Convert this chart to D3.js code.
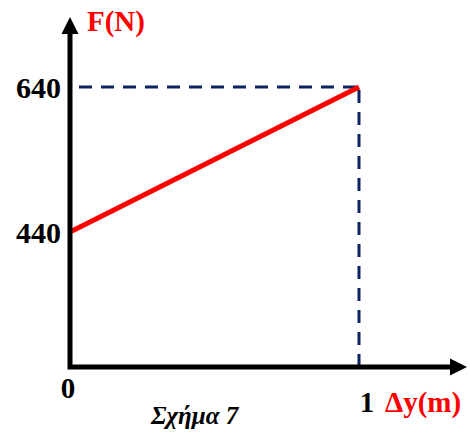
<!DOCTYPE html>
<html>
<head>
<meta charset="utf-8">
<script src="https://cdn.jsdelivr.net/npm/d3@7"></script>
<style>
  html, body { margin: 0; padding: 0; background: #fff; }
  svg { display: block; }
  text { font-family: "Liberation Serif", "Times New Roman", serif; font-weight: bold; }
</style>
</head>
<body>
<svg id="chart" width="470" height="435"></svg>
<script>
// Force F (N) against displacement Δy (m)
const displacement = [0, 1];
const force = [440, 640];
const forceTicks = [440, 640];
const dispTicks = [0, 1];

const svg = d3.select("#chart");

// Origin of the axes and their arrow tips
const originX = 70, originY = 367;
const xAxisEnd = 467, yAxisEnd = 17;

const x = d3.scaleLinear().domain([0, 1]).range([originX, 359]);
const y = d3.scaleLinear().domain([440, 640]).range([232, 87]);

const pts = displacement.map((d, i) => ({ dx: d, f: force[i] }));
const last = pts[pts.length - 1];

// Dashed guides to the end point
const guide = svg.append("g")
  .attr("stroke", "#0b2461")
  .attr("stroke-width", 3)
  .attr("stroke-dasharray", "13 9")
  .attr("fill", "none");
guide.append("line")
  .attr("x1", originX + 9).attr("x2", x(last.dx))
  .attr("y1", y(last.f)).attr("y2", y(last.f));
guide.append("line")
  .attr("x1", x(last.dx)).attr("x2", x(last.dx))
  .attr("y1", y(last.f) + 3).attr("y2", originY - 2);

// Force line
svg.append("path")
  .datum(pts)
  .attr("fill", "none")
  .attr("stroke", "#ff0000")
  .attr("stroke-width", 5)
  .attr("d", d3.line().x(d => x(d.dx)).y(d => y(d.f)));

// Axes with arrowheads
const axes = svg.append("g");
axes.append("path")
  .attr("d", `M${originX},${yAxisEnd + 14} L${originX},${originY} L${xAxisEnd - 14},${originY}`)
  .attr("fill", "none")
  .attr("stroke", "#000")
  .attr("stroke-width", 5)
  .attr("stroke-linejoin", "miter");
axes.append("path")
  .attr("d", `M${originX},${yAxisEnd} L${originX - 8.5},${yAxisEnd + 17} L${originX + 8.5},${yAxisEnd + 17} Z`)
  .attr("fill", "#000");
axes.append("path")
  .attr("d", `M${xAxisEnd},${originY} L${xAxisEnd - 17},${originY - 8.5} L${xAxisEnd - 17},${originY + 8.5} Z`)
  .attr("fill", "#000");

// Y tick labels
svg.append("g").selectAll("text")
  .data(forceTicks)
  .join("text")
  .attr("x", originX - 9)
  .attr("y", d => y(d))
  .attr("dy", "0.35em")
  .attr("text-anchor", "end")
  .attr("font-size", 30)
  .attr("fill", "#000")
  .text(d => d);

// X tick labels
svg.append("g").selectAll("text")
  .data(dispTicks)
  .join("text")
  .attr("x", d => d === 0 ? x(d) - 2 : x(d) + 8)
  .attr("y", d => d === 0 ? 398 : 412)
  .attr("text-anchor", "middle")
  .attr("font-size", 29)
  .attr("fill", "#000")
  .text(d => d);

// Axis titles
svg.append("text")
  .attr("x", 87).attr("y", 31)
  .attr("font-size", 29)
  .attr("fill", "#ff0000")
  .text("F(N)");
svg.append("text")
  .attr("x", 385).attr("y", 412)
  .attr("font-size", 29)
  .attr("fill", "#ff0000")
  .text("Δy(m)");

// Caption
svg.append("text")
  .attr("x", 151).attr("y", 424)
  .attr("font-size", 25)
  .attr("font-style", "italic")
  .attr("fill", "#000")
  .text("Σχήμα 7");
</script>
</body>
</html>
